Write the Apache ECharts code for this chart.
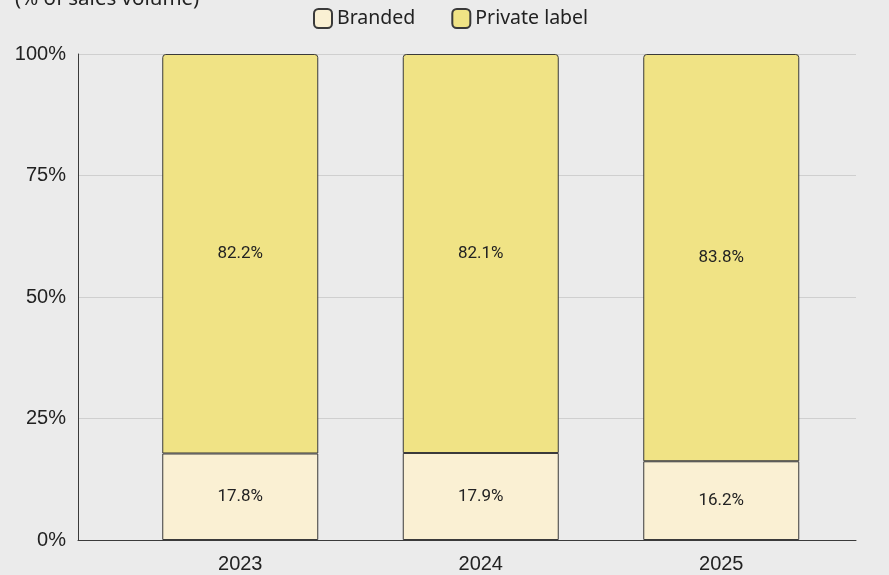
<!DOCTYPE html>
<html>
<head>
<meta charset="utf-8">
<style>
  html, body { margin: 0; padding: 0; background: #ebebeb; }
  #chart { width: 889px; height: 575px; }
</style>
<script src="https://cdn.jsdelivr.net/npm/echarts@6/dist/echarts.min.js"></script>
</head>
<body>
<div id="chart"></div>
<script>
// Sales volume split by label type
const years = ['2023', '2024', '2025'];
const branded = [17.8, 17.9, 16.2];
const privateLabel = [82.2, 82.1, 83.8];
const yTicks = [0, 25, 50, 75, 100];

const AXIS_FONT = '"Liberation Sans", Arial, sans-serif';
const TEXT_FONT = '"Noto Sans", "Open Sans", sans-serif';
const LABEL_FONT = 'Roboto, "Noto Sans", sans-serif';
const INK = '#222222';
const EDGE = '#3a3a3a';

const chart = echarts.init(document.getElementById('chart'), null, { renderer: 'canvas' });

const pct = p => p.value.toFixed(1) + '%';

chart.setOption({
  backgroundColor: '#ebebeb',
  animation: false,
  title: {
    text: '(% of sales volume)',
    left: 10,
    top: -16,
    textStyle: { fontFamily: TEXT_FONT, fontSize: 20.5, fontWeight: 'normal', color: INK }
  },
  legend: {
    left: 313,
    top: 8,
    padding: 0,
    icon: 'roundRect',
    itemWidth: 18,
    itemHeight: 19,
    itemGap: 36,
    textStyle: { fontFamily: TEXT_FONT, fontSize: 19.5, color: INK },
    data: ['Branded', 'Private label']
  },
  grid: [
    { left: 78, right: 33, top: 54, bottom: 35 },
    { left: 120, width: 721.5, top: 54, bottom: 35 }
  ],
  xAxis: [
    {
      gridIndex: 0, type: 'value', min: 0, max: 1,
      axisLine: { show: true, onZero: false, lineStyle: { color: EDGE, width: 1 } },
      axisTick: { show: false }, axisLabel: { show: false }, splitLine: { show: false }
    },
    {
      gridIndex: 1, type: 'category', data: years,
      axisLine: { show: false }, axisTick: { show: false },
      axisLabel: { fontFamily: AXIS_FONT, fontSize: 20, color: INK, margin: 14 }
    }
  ],
  yAxis: [
    {
      gridIndex: 0, type: 'value', min: yTicks[0], max: yTicks[yTicks.length - 1], interval: 25,
      axisLine: { show: true, lineStyle: { color: EDGE, width: 1 } },
      axisTick: { show: false },
      axisLabel: { fontFamily: AXIS_FONT, fontSize: 20, color: INK, margin: 12, formatter: '{value}%' },
      splitLine: { show: true, lineStyle: { color: '#cfcfcf', width: 1 } }
    },
    {
      gridIndex: 1, type: 'value', min: 0, max: 100, show: false,
      splitLine: { show: false }
    }
  ],
  series: [
    {
      name: 'Branded', type: 'bar', stack: 'share',
      xAxisIndex: 1, yAxisIndex: 1,
      barWidth: 156,
      data: branded,
      itemStyle: { color: '#faf0d3', borderColor: EDGE, borderWidth: 1 },
      label: { show: true, position: 'inside', fontFamily: LABEL_FONT, fontSize: 17, color: INK, formatter: pct }
    },
    {
      name: 'Private label', type: 'bar', stack: 'share',
      xAxisIndex: 1, yAxisIndex: 1,
      barWidth: 156,
      data: privateLabel,
      itemStyle: { color: '#f0e385', borderColor: EDGE, borderWidth: 1, borderRadius: [3, 3, 0, 0] },
      label: { show: true, position: 'inside', fontFamily: LABEL_FONT, fontSize: 17, color: INK, formatter: pct }
    }
  ]
});
</script>
</body>
</html>
